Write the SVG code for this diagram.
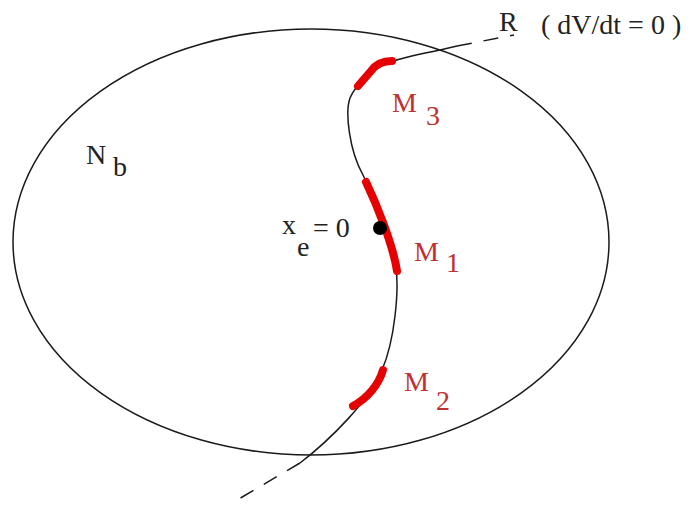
<svg xmlns="http://www.w3.org/2000/svg" width="692" height="506" viewBox="0 0 692 506">
<style>
.ln{fill:none;stroke:#1a1a1a;stroke-width:1.5}
.ds{fill:none;stroke:#1a1a1a;stroke-width:1.5;stroke-dasharray:15 12}
.red{fill:none;stroke:#e60000;stroke-width:8;stroke-linecap:round;stroke-linejoin:round}
.t{font-family:"Liberation Serif",serif;font-size:28px;fill:#222}
.rt{font-family:"Liberation Serif",serif;font-size:28px;fill:#c0302f}
</style>
<rect width="692" height="506" fill="#fff"/>
<g id="region">
<ellipse cx="311" cy="242" rx="298" ry="213" class="ln"/>
<text class="t" x="86" y="164">N</text>
<text class="t" x="113" y="176">b</text>
</g>
<g id="connectors">
<path id="trajectory" class="ln" d="M457,46 L440,50 C420,54 398,58 385,64 C372,70 356,84 350,98 C345,112 349,150 363,175 C375,200 393,245 396,268 C399,290 395,340 382,370 C370,400 330,440 300,463"/>
<path class="ds" d="M457,46 L514,35"/>
<path class="ds" d="M300,463 L232,503"/>
</g>
<g id="M3">
<path class="red" d="M392,61 C383,61 376,64 371,71 L358,86"/>
<text class="rt" x="392" y="112">M</text>
<text class="rt" x="426" y="125">3</text>
</g>
<g id="M1">
<path class="red" d="M366,182 C377,205 393,245 397,271"/>
<text class="rt" x="414" y="261">M</text>
<text class="rt" x="446" y="272">1</text>
</g>
<g id="M2">
<path class="red" d="M383,370 C379,384 368,398 353,406"/>
<text class="rt" x="404" y="391">M</text>
<text class="rt" x="436" y="410">2</text>
</g>
<g id="equilibrium">
<circle cx="380" cy="228" r="7" fill="#000"/>
<text class="t" x="282" y="234">x</text>
<text class="t" x="297" y="256">e</text>
<text class="t" x="313" y="237">= 0</text>
</g>
<g id="R">
<text class="t" x="499" y="31">R</text>
<text class="t" x="541" y="34" xml:space="preserve">( dV/dt = 0 )</text>
</g>
</svg>
